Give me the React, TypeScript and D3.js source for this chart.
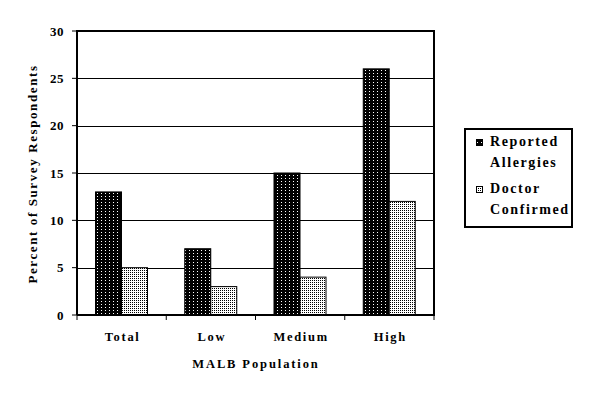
import React, { useEffect, useRef } from 'react'
import * as d3 from 'd3'

const categories = ['Total', 'Low', 'Medium', 'High']
const seriesNames = ['Reported Allergies', 'Doctor Confirmed']
const reported = [13, 7, 15, 26]
const confirmed = [5, 3, 4, 12]
const yTicks = [0, 5, 10, 15, 20, 25, 30]

const FONT = "'Liberation Serif', 'Times New Roman', Times, serif"

const App = () => {
    const svgRef = useRef<SVGSVGElement>(null)

    useEffect(() => {
        const svg = d3.select(svgRef.current)
        svg.selectAll('*').remove()

        const left = 77, right = 434, top = 31, bottom = 315

        const x = d3.scaleBand<string>().domain(categories).range([left, right])
        const xs = d3.scaleBand<string>().domain(seriesNames).range([18.5, 70.5])
        const y = d3.scaleLinear().domain([0, 30]).range([bottom, top])

        const defs = svg.append('defs')
        const dark = defs.append('pattern').attr('id', 'darkDots')
            .attr('patternUnits', 'userSpaceOnUse').attr('width', 4).attr('height', 3)
        dark.append('rect').attr('width', 4).attr('height', 3).attr('fill', '#000')
        dark.append('rect').attr('x', 1).attr('y', 1).attr('width', 1).attr('height', 1).attr('fill', '#fff')

        const light = defs.append('pattern').attr('id', 'lightDots')
            .attr('patternUnits', 'userSpaceOnUse').attr('width', 2).attr('height', 2)
        light.append('rect').attr('width', 2).attr('height', 2).attr('fill', '#fff')
        light.append('rect').attr('x', 0).attr('y', 0).attr('width', 1).attr('height', 1).attr('fill', '#000')

        const fills = ['url(#darkDots)', 'url(#lightDots)']

        // gridlines
        svg.append('g').selectAll('line')
            .data(yTicks.filter(t => t > 0 && t < 30))
            .join('line')
            .attr('x1', left).attr('x2', right)
            .attr('y1', d => Math.round(y(d)) + 0.5).attr('y2', d => Math.round(y(d)) + 0.5)
            .attr('stroke', '#000').attr('stroke-width', 1)

        // bars
        const series = [reported, confirmed]
        seriesNames.forEach((s, si) => {
            svg.append('g').selectAll('rect')
                .data(categories)
                .join('rect')
                .attr('x', d => (x(d) as number) + (xs(s) as number))
                .attr('y', (d, i) => y(series[si][i]))
                .attr('width', xs.bandwidth())
                .attr('height', (d, i) => bottom - y(series[si][i]))
                .attr('fill', fills[si])
                .attr('stroke', '#000').attr('stroke-width', 1)
        })

        // frame
        svg.append('path')
            .attr('d', `M${left},${bottom} V${top} H${right} V${bottom} H${left}`)
            .attr('fill', 'none').attr('stroke', '#000').attr('stroke-width', 2)

        // y ticks
        const yg = svg.append('g')
        yg.selectAll('line').data(yTicks).join('line')
            .attr('x1', left - 5).attr('x2', left)
            .attr('y1', d => y(d)).attr('y2', d => y(d))
            .attr('stroke', '#000')
        yg.selectAll('text').data(yTicks).join('text')
            .attr('x', 64).attr('y', d => y(d) + 4.5)
            .attr('text-anchor', 'end')
            .attr('font-family', FONT).attr('font-weight', 'bold').attr('font-size', 13)
            .attr('letter-spacing', 0.5)
            .text(d => d)

        // x ticks
        const xg = svg.append('g')
        xg.selectAll('line').data([...categories.map(c => x(c) as number), right]).join('line')
            .attr('x1', d => d).attr('x2', d => d)
            .attr('y1', bottom).attr('y2', bottom + 5)
            .attr('stroke', '#000')
        xg.selectAll('text').data(categories).join('text')
            .attr('x', d => (x(d) as number) + x.bandwidth() / 2 + 1)
            .attr('y', 341)
            .attr('text-anchor', 'middle')
            .attr('font-family', FONT).attr('font-weight', 'bold').attr('font-size', 12.5)
            .attr('letter-spacing', 1.7)
            .text(d => d)

        // axis titles
        svg.append('text')
            .attr('x', 256).attr('y', 368)
            .attr('text-anchor', 'middle')
            .attr('font-family', FONT).attr('font-weight', 'bold').attr('font-size', 12.5)
            .attr('letter-spacing', 1.9)
            .text('MALB Population')

        svg.append('text')
            .attr('transform', 'translate(37,174) rotate(-90)')
            .attr('text-anchor', 'middle')
            .attr('font-family', FONT).attr('font-weight', 'bold').attr('font-size', 13)
            .attr('letter-spacing', 1.6)
            .text('Percent of Survey Respondents')

        // legend
        const lg = svg.append('g')
        lg.append('rect')
            .attr('x', 465).attr('y', 129).attr('width', 107).attr('height', 98)
            .attr('fill', '#fff').attr('stroke', '#000').attr('stroke-width', 2)
        const legendLines = [['Reported', 'Allergies'], ['Doctor', 'Confirmed']]
        legendLines.forEach((lines, i) => {
            const base = 146 + i * 47
            lg.append('rect')
                .attr('x', 476.5).attr('y', base - 6.5).attr('width', 6).attr('height', 6)
                .attr('fill', fills[i]).attr('stroke', '#000')
            lines.forEach((t, j) => {
                lg.append('text')
                    .attr('x', 490).attr('y', base + j * 21)
                    .attr('font-family', FONT).attr('font-weight', 'bold').attr('font-size', 14)
                    .attr('letter-spacing', 1.6)
                    .text(t)
            })
        })
    }, [])

    return (
        <svg ref={svgRef} width={600} height={400}
            style={{ position: 'absolute', left: 0, top: 0, background: '#fff' }} />
    )
}

export default App
